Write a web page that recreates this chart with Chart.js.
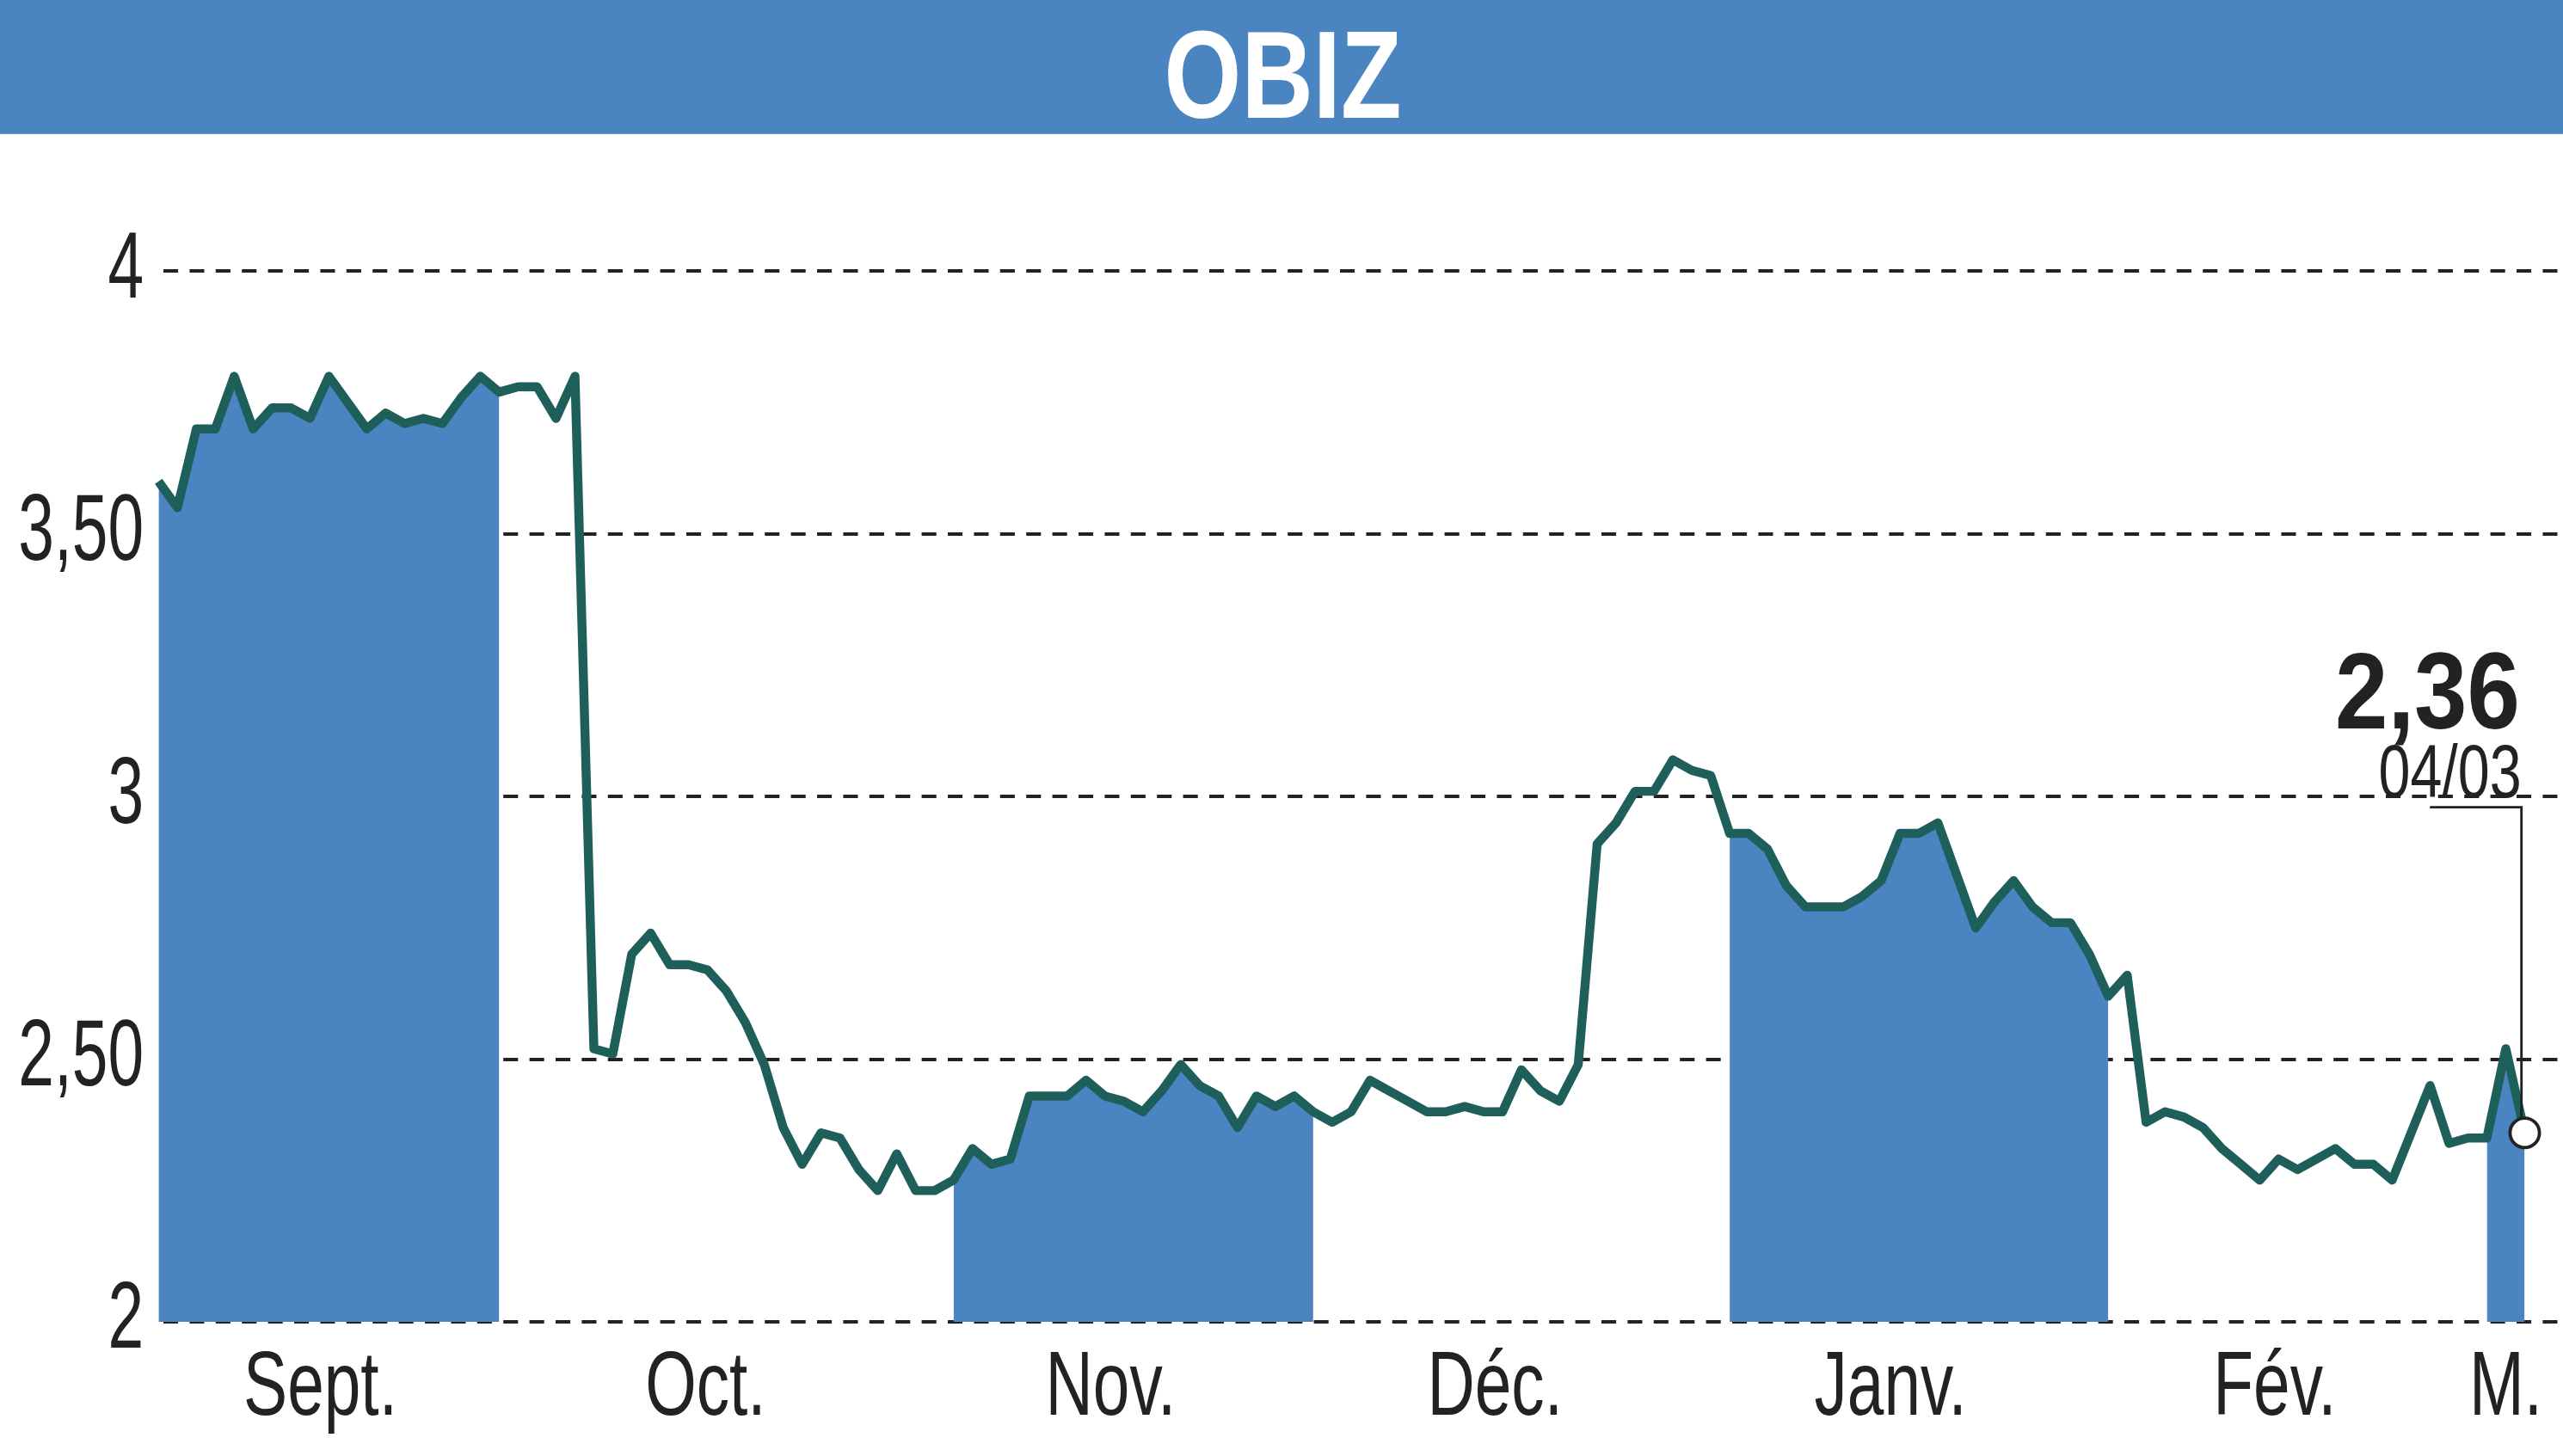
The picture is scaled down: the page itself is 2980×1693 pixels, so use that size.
<!DOCTYPE html>
<html><head><meta charset="utf-8">
<script src="https://cdn.jsdelivr.net/npm/chart.js@4"></script>
<style>html,body{margin:0;padding:0;background:#fff}#c{display:block}</style>
</head><body>
<canvas id="c" width="2980" height="1693"></canvas>
<script>
const title = "OBIZ";
const prices = [3.60,3.55,3.70,3.70,3.80,3.70,3.74,3.74,3.72,3.80,3.75,3.70,3.73,3.71,3.72,3.71,3.76,3.80,3.77,
3.78,3.78,3.72,3.80,2.52,2.51,2.70,2.74,2.68,2.68,2.67,2.63,2.57,2.49,2.37,2.30,2.36,2.35,2.29,2.25,2.32,2.25,2.25,
2.27,2.33,2.30,2.31,2.43,2.43,2.43,2.46,2.43,2.42,2.40,2.44,2.49,2.45,2.43,2.37,2.43,2.41,2.43,2.40,
2.38,2.40,2.46,2.44,2.42,2.40,2.40,2.41,2.40,2.40,2.48,2.44,2.42,2.49,2.91,2.95,3.01,3.01,3.07,3.05,3.04,
2.93,2.93,2.90,2.83,2.79,2.79,2.79,2.81,2.84,2.93,2.93,2.95,2.85,2.75,2.80,2.84,2.79,2.76,2.76,2.70,2.62,
2.66,2.38,2.40,2.39,2.37,2.33,2.30,2.27,2.31,2.29,2.31,2.33,2.30,2.30,2.27,2.36,2.45,2.34,2.35,2.35,
2.52,2.36];
const monthNames = ["Sept.","Oct.","Nov.","Déc.","Janv.","Fév.","M."];
const monthStart = [0,19,42,62,83,104,123];
const monthEnd = [18,41,61,82,103,122,125];
const monthLabelPos = [8.55,28.9,50.3,70.6,91.5,111.8,124.0];
const shadedMonths = [0,2,4,6];
const yTicks = [2,2.5,3,3.5,4];
const yTickLabels = ["2","2,50","3","3,50","4"];
const lastLabel = "2,36";
const lastDate = "04/03";

const S = 1.9;
const FONT = '"Liberation Sans",sans-serif';
const labels = prices.map((_, i) => i);
const fillSets = shadedMonths.map(m => ({
  data: prices.map((v, i) => (i >= monthStart[m] && i <= monthEnd[m]) ? v : null),
  borderWidth: 0, pointRadius: 0, fill: 'start', backgroundColor: '#4a84c1', spanGaps: false, order: 2
}));

function ctext(ctx, s, x, y, align, sq) {
  ctx.save();
  ctx.translate(x, y); ctx.scale(sq, 1);
  ctx.textAlign = align; ctx.fillText(s, 0, 0);
  ctx.restore();
}

const deco = {
  id: 'deco',
  beforeDraw(chart) {
    const ctx = chart.ctx, y = chart.scales.y;
    ctx.save();
    ctx.fillStyle = '#4a84c1';
    ctx.fillRect(0, 0, 2980, 82 * S);
    ctx.fillStyle = '#fff';
    ctx.font = 'bold ' + (76 * S) + 'px ' + FONT;
    ctx.textBaseline = 'alphabetic';
    ctext(ctx, title, 785 * S, 72 * S, 'center', 0.8);
    ctx.strokeStyle = '#222'; ctx.lineWidth = 2 * S; ctx.setLineDash([9 * S, 7 * S]);
    yTicks.forEach(t => {
      const py = Math.round(y.getPixelForValue(t));
      ctx.beginPath(); ctx.moveTo(100 * S, py); ctx.lineTo(2980, py); ctx.stroke();
    });
    ctx.setLineDash([]);
    ctx.fillStyle = '#222';
    ctx.font = (58 * S) + 'px ' + FONT;
    ctx.textBaseline = 'middle';
    yTicks.forEach((t, i) => ctext(ctx, yTickLabels[i], 88 * S, y.getPixelForValue(t), 'right', 0.68));
    ctx.restore();
  },
  afterDraw(chart) {
    const ctx = chart.ctx, x = chart.scales.x, y = chart.scales.y;
    ctx.save();
    ctx.fillStyle = '#222';
    ctx.font = (56 * S) + 'px ' + FONT;
    ctx.textBaseline = 'alphabetic';
    monthNames.forEach((n, i) => ctext(ctx, n, x.getPixelForValue(monthLabelPos[i]), 866 * S, 'center', 0.72));
    const li = prices.length - 1;
    const px = x.getPixelForValue(li), py = y.getPixelForValue(prices[li]);
    ctx.strokeStyle = '#222'; ctx.lineWidth = 1.5 * S;
    ctx.beginPath(); ctx.moveTo(1487 * S, 494 * S); ctx.lineTo(px - 2 * S, 494 * S); ctx.lineTo(px - 2 * S, py); ctx.stroke();
    ctx.beginPath(); ctx.arc(px, py, 9 * S, 0, Math.PI * 2);
    ctx.fillStyle = '#fff'; ctx.fill(); ctx.strokeStyle = '#222'; ctx.lineWidth = 2 * S; ctx.stroke();
    ctx.fillStyle = '#222';
    ctx.font = 'bold ' + (66 * S) + 'px ' + FONT;
    ctext(ctx, lastLabel, 1542 * S, 446 * S, 'right', 0.88);
    ctx.font = (46 * S) + 'px ' + FONT;
    ctext(ctx, lastDate, 1543 * S, 488 * S, 'right', 0.76);
    ctx.restore();
  }
};

new Chart(document.getElementById('c'), {
  type: 'line',
  data: { labels, datasets: [
    { data: prices, borderColor: '#1f5f5b', borderWidth: 5.5 * S, pointRadius: 0, fill: false, tension: 0, order: 1, borderJoinStyle: 'round' },
    ...fillSets
  ]},
  options: {
    responsive: false, animation: false, devicePixelRatio: 1,
    layout: { padding: { left: 97 * S, right: 2980 - 1545 * S, top: 166 * S, bottom: 1693 - 809 * S } },
    plugins: { legend: { display: false }, tooltip: { enabled: false } },
    scales: {
      x: { type: 'category', display: false, offset: false },
      y: { display: false, min: 2, max: 4 }
    }
  },
  plugins: [deco]
});
</script>
</body></html>
